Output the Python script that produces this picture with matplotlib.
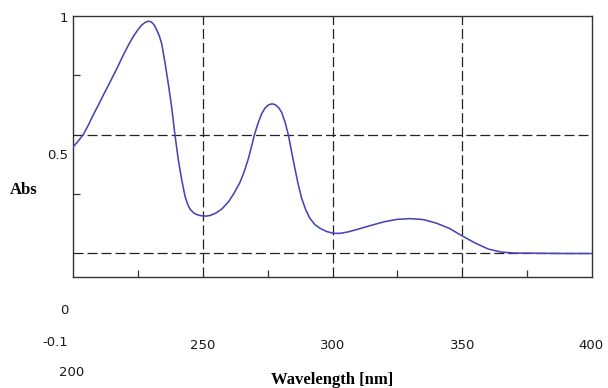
import matplotlib
matplotlib.use('Agg')
import matplotlib.pyplot as plt

# spectrum
wavelength = [200, 202, 204, 206, 207.8, 209.8, 211.7, 213.6, 215.5, 217.5, 219.4, 221.3,
              223.2, 225, 226.5, 227.8, 229, 230.2, 231.3, 232.2, 233.3, 234.2, 235.5,
              236.7, 238, 239.3, 240.6, 241.9, 243.2, 244.2, 245.1, 246.4, 247.7, 249,
              250.2, 251.5, 253, 255, 257.5, 260, 262, 264.4, 266, 267.6, 268.8, 269.9,
              271.3, 272.7, 274, 275.3, 276.3, 277.2, 278.2, 279.3, 280.4, 281.7, 283,
              284.2, 285.5, 286.8, 288.1, 289.7, 291.3, 293.2, 295.2, 297.7, 300.3, 303,
              306, 310, 315, 320, 325, 330, 335, 340, 345, 350, 355, 360, 365, 370, 380,
              390, 400]
absorb = [0.447, 0.473, 0.501, 0.542, 0.583, 0.625, 0.667, 0.707, 0.748, 0.792, 0.836,
          0.876, 0.913, 0.942, 0.962, 0.973, 0.978, 0.975, 0.962, 0.943, 0.915, 0.882,
          0.80, 0.716, 0.618, 0.498, 0.393, 0.309, 0.239, 0.206, 0.186, 0.171, 0.163,
          0.159, 0.157, 0.157, 0.160, 0.169, 0.188, 0.218, 0.252, 0.300, 0.345, 0.40,
          0.45, 0.499, 0.548, 0.588, 0.612, 0.625, 0.629, 0.629, 0.624, 0.613, 0.594,
          0.553, 0.499, 0.43, 0.358, 0.29, 0.232, 0.183, 0.147, 0.121, 0.105, 0.092,
          0.084, 0.084, 0.09, 0.102, 0.118, 0.133, 0.143, 0.146, 0.142, 0.127, 0.105,
          0.073, 0.043, 0.018, 0.005, 0.001, 0.0, -0.001, -0.001]

grid_x = [250, 300, 350]
grid_y = [0.0, 0.5]
minor_x = [225, 275, 325, 375]
minor_y = [0.25, 0.75]

# tick labels as they sit in the picture (displaced from their ticks)
y_labels = [('1', 0.99), ('0.5', 0.41), ('0', -0.243), ('-0.1', -0.374)]
x_labels = [('250', 250), ('300', 300), ('350', 350), ('400', 399.4)]

plt.rcParams['lines.scale_dashes'] = False
fig = plt.figure(figsize=(6.08, 3.88), dpi=100)
ax = fig.add_axes([73/608, 1-277/388, 519/608, 261/388])

ax.plot(wavelength, absorb, color='#4646b4', lw=1.15, zorder=3,
        solid_joinstyle='round')
for gx in grid_x:
    ax.axvline(gx, color='#222222', lw=0.9, ls=(0, (7.2, 2.9)), zorder=2)
for gy in grid_y:
    ax.axhline(gy, color='#222222', lw=0.9, ls=(0, (7.2, 2.9)), zorder=2)

ax.set_xlim(200, 400)
ax.set_ylim(-0.1, 1.0)
ax.set_xticks(minor_x)
ax.set_yticks(minor_y)
ax.set_xticklabels([])
ax.set_yticklabels([])
ax.tick_params(direction='in', length=5, width=0.9, color='#333333')
for s in ax.spines.values():
    s.set_color('#333333')
    s.set_linewidth(1.0)

tk = dict(fontsize=9.5, color='#1a1a1a', family='DejaVu Sans', clip_on=False)
for txt, yv in y_labels:
    ax.text(198.1, yv, txt, ha='right', va='center', **tk)
for txt, xv in x_labels:
    ax.text(xv, -0.39, txt, ha='center', va='center', **tk)
ax.text(199.6, -0.504, '200', ha='center', va='center', **tk)

ax.text(300, -0.535, 'Wavelength [nm]', ha='center', va='center', fontsize=12,
        fontweight='bold', family='Liberation Serif', clip_on=False)
ax.text(181, 0.267, 'Abs', ha='center', va='center', fontsize=12,
        fontweight='bold', family='Liberation Serif', clip_on=False)

fig.savefig('out.png', dpi=100)
